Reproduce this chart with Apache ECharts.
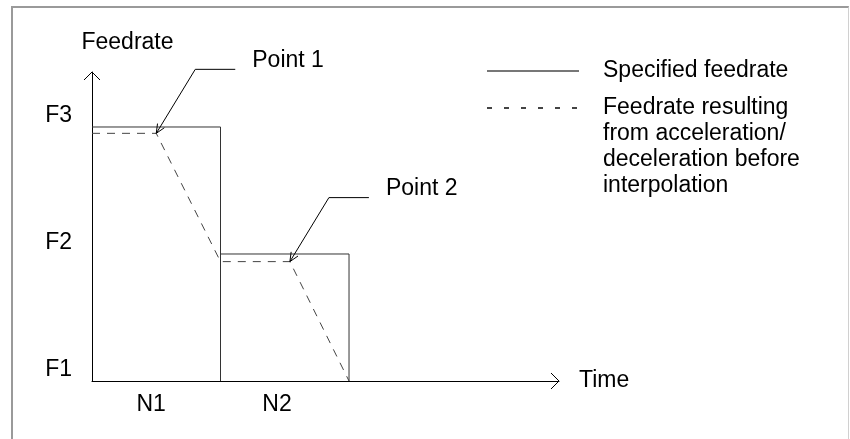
<!DOCTYPE html>
<html>
<head>
<meta charset="utf-8">
<title>Feedrate</title>
<script src="https://cdn.jsdelivr.net/npm/echarts@6/dist/echarts.min.js"></script>
<style>
  html, body { margin: 0; padding: 0; background: #fff; }
  #wrap { position: relative; width: 850px; height: 439px; overflow: hidden; }
  #main { width: 850px; height: 439px; }
  #frame {
    position: absolute; left: 11px; top: 6px; right: 1px; bottom: -10px;
    border-top: 2px solid #9a9a9a; border-left: 2px solid #9a9a9a;
    border-right: 1px solid #d0d0d0; pointer-events: none;
  }
</style>
</head>
<body>
<div id="wrap"><div id="main"></div><div id="frame"></div></div>
<script>
// time in block units (N1 = 0..1, N2 = 1..2), feedrate in steps (F1 = 0, F2 = 1, F3 = 2)
const specTime = [0, 1, 1, 1, 2, 2];
const specFeed = [2, 2, 0, 1, 1, 0];
const accTime = [0, 0.5, 1, 1.54, 2];
const accFeed = [1.95, 1.95, 0.94, 0.94, 0];
const pointTime = [0.5, 1.54];
const pointFeed = [1.95, 0.94];
const pointNames = ['Point 1', 'Point 2'];
const yTickValues = [0, 1, 2];
const yTickLabels = ['F1', 'F2', 'F3'];
const xTickValues = [0.46, 1.44];
const xTickLabels = ['N1', 'N2'];
const xMax = 3.634;
const yMax = 2.433;
const seriesNames = [
  'Specified feedrate',
  'Feedrate resulting\nfrom acceleration/\ndeceleration before\ninterpolation'
];

const FONT = 'Liberation Sans';
const FS = 23;

var myChart = echarts.init(document.getElementById('main'));

// open chevron arrow heads at the ends of both axes
function renderArrow(params, api) {
  const p = api.coord([api.value(0), api.value(1)]);
  const a = 8;
  const pts = api.value(2) === 0
    ? [[p[0] - a, p[1] - a], p, [p[0] - a, p[1] + a]]
    : [[p[0] - a, p[1] + a], p, [p[0] + a, p[1] + a]];
  return {
    type: 'polyline',
    shape: { points: pts },
    style: { stroke: '#000', lineWidth: 1, fill: null }
  };
}

// leader line + arrow + caption pointing at the corner points
function renderPoint(params, api) {
  const p = api.coord([api.value(0), api.value(1)]);
  const elbow = [p[0] + 39, p[1] - 64];
  const end = [p[0] + 79, p[1] - 64];
  const len = Math.hypot(elbow[0] - p[0], elbow[1] - p[1]);
  const ux = (elbow[0] - p[0]) / len, uy = (elbow[1] - p[1]) / len;
  const h = 9, w = 4;
  const wing1 = [p[0] + ux * h - uy * w, p[1] + uy * h + ux * w];
  const wing2 = [p[0] + ux * h + uy * w, p[1] + uy * h - ux * w];
  const stroke = { stroke: '#000', lineWidth: 1, fill: null };
  return {
    type: 'group',
    children: [
      { type: 'polyline', shape: { points: [end, elbow, p] }, style: stroke },
      { type: 'polyline', shape: { points: [wing1, p, wing2] }, style: stroke },
      {
        type: 'text',
        x: end[0] + 17,
        y: end[1] - 9,
        style: {
          text: pointNames[api.value(2)],
          fontSize: FS, fontFamily: FONT, fill: '#000',
          align: 'left', verticalAlign: 'middle'
        }
      }
    ]
  };
}

const legendText = {
  fontFamily: FONT, fontSize: FS, lineHeight: 26, color: '#000',
  padding: [0, 0, 8, 19]
};

var option = {
  animation: false,
  grid: { left: 92, right: 291, top: 72, bottom: 58, containLabel: false, outerBoundsMode: 'none' },
  legend: [
    {
      data: [{ name: seriesNames[0], lineStyle: { color: '#777' }, itemStyle: { opacity: 0 } }],
      orient: 'vertical', left: 486, top: 54, padding: 0,
      itemWidth: 92, itemHeight: 14, selectedMode: false,
      textStyle: legendText
    },
    {
      data: [{ name: seriesNames[1], lineStyle: { color: '#444', type: [5, 12] }, itemStyle: { opacity: 0 } }],
      orient: 'vertical', left: 486, top: 13, padding: 0,
      itemWidth: 92, itemHeight: 14, selectedMode: false,
      // blank lines on top so the first text line sits beside the sample line
      formatter: function (name) { return '\n\n\n' + name; },
      textStyle: legendText
    }
  ],
  xAxis: {
    type: 'value',
    min: 0,
    max: xMax,
    name: 'Time',
    nameLocation: 'end',
    nameGap: 20,
    nameTextStyle: { fontFamily: FONT, fontSize: FS, color: '#000' },
    axisLine: { show: true, lineStyle: { color: '#000', width: 1 } },
    axisTick: { show: false },
    splitLine: { show: false },
    axisLabel: {
      customValues: xTickValues,
      formatter: function (v) {
        const i = xTickValues.indexOf(v);
        return i >= 0 ? xTickLabels[i] : '';
      },
      margin: 11,
      fontFamily: FONT, fontSize: FS, lineHeight: 26, color: '#000'
    }
  },
  yAxis: {
    type: 'value',
    min: 0,
    max: yMax,
    name: 'Feedrate',
    nameLocation: 'end',
    nameGap: 16,
    nameTextStyle: {
      fontFamily: FONT, fontSize: FS, lineHeight: 26, color: '#000',
      align: 'center', padding: [0, 0, 0, 71]
    },
    axisLine: { show: true, lineStyle: { color: '#000', width: 1 } },
    axisTick: { show: false },
    splitLine: { show: false },
    axisLabel: {
      customValues: yTickValues,
      formatter: function (v) {
        const i = yTickValues.indexOf(v);
        return i >= 0 ? yTickLabels[i] : '';
      },
      margin: 20,
      verticalAlign: 'bottom',
      lineHeight: 22,
      fontFamily: FONT, fontSize: FS, color: '#000'
    }
  },
  series: [
    {
      name: seriesNames[0],
      type: 'line',
      data: specTime.map((t, i) => [t, specFeed[i]]),
      symbol: 'none',
      silent: true,
      z: 3,
      itemStyle: { color: '#333' },
      lineStyle: { color: '#333', width: 1 }
    },
    {
      name: seriesNames[1],
      type: 'line',
      data: accTime.map((t, i) => [t, accFeed[i]]),
      symbol: 'none',
      silent: true,
      z: 4,
      itemStyle: { color: '#444' },
      lineStyle: { color: '#444', width: 1, type: [8, 7] }
    },
    {
      type: 'custom',
      silent: true,
      clip: false,
      z: 5,
      data: [[xMax, 0, 0], [0, yMax, 1]],
      renderItem: renderArrow
    },
    {
      type: 'custom',
      silent: true,
      clip: false,
      z: 6,
      data: pointTime.map((t, i) => [t, pointFeed[i], i]),
      renderItem: renderPoint
    }
  ]
};

option && myChart.setOption(option);
</script>
</body>
</html>
